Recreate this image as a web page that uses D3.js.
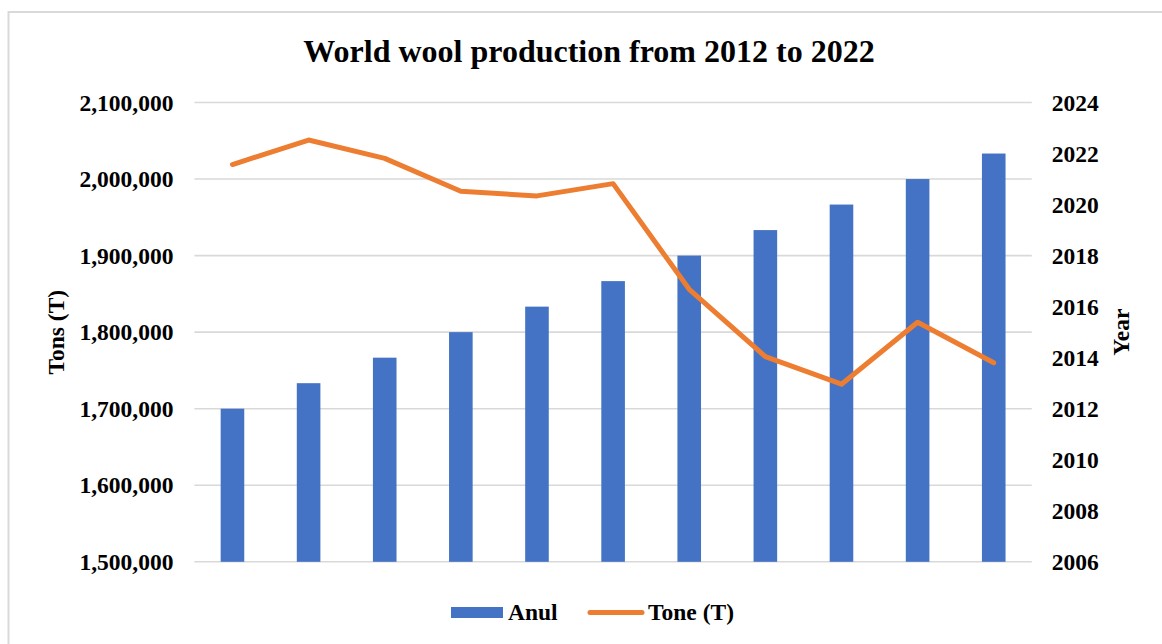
<!DOCTYPE html>
<html>
<head>
<meta charset="utf-8">
<script src="https://cdn.jsdelivr.net/npm/d3@7"></script>
<style>
  html, body { margin: 0; padding: 0; background: #ffffff; }
  svg { display: block; }
  text { font-family: "Liberation Serif", "Times New Roman", serif; font-weight: bold; fill: #000; }
</style>
</head>
<body>
<svg id="chart" width="1162" height="644"></svg>
<script>
// Categories: production years
const years = [2012, 2013, 2014, 2015, 2016, 2017, 2018, 2019, 2020, 2021, 2022];
// Bar series "Anul" (year value, read on the right axis)
const anul = [2012, 2013, 2014, 2015, 2016, 2017, 2018, 2019, 2020, 2021, 2022];
// Line series "Tone (T)" (tons, read on the left axis)
const tone = [2019000, 2051000, 2027000, 1984000, 1978000, 1994000, 1856000, 1768000, 1732000, 1813000, 1760000];
// Axis tick values
const leftTicks = [1500000, 1600000, 1700000, 1800000, 1900000, 2000000, 2100000];
const rightTicks = [2006, 2008, 2010, 2012, 2014, 2016, 2018, 2020, 2022, 2024];

const FONT = "Liberation Serif, Times New Roman, serif";
const svg = d3.select("#chart");
const plot = { left: 194.4, right: 1031.8, top: 102.5, bottom: 561.8 };

// Chart area frame
svg.append("rect")
  .attr("x", 8.5).attr("y", 12).attr("width", 1170).attr("height", 700)
  .attr("fill", "#fff").attr("stroke", "#d9d9d9").attr("stroke-width", 2);

const x = d3.scaleBand()
  .domain(years)
  .range([plot.left, plot.right])
  .paddingInner(0.69)
  .paddingOuter(0.345);

const yLeft = d3.scaleLinear().domain([1500000, 2100000]).range([plot.bottom, plot.top]);
const yRight = d3.scaleLinear().domain([2006, 2024]).range([plot.bottom, plot.top]);

// Horizontal gridlines
svg.append("g")
  .selectAll("line")
  .data(leftTicks)
  .join("line")
  .attr("x1", plot.left).attr("x2", plot.right)
  .attr("y1", d => yLeft(d)).attr("y2", d => yLeft(d))
  .attr("stroke", "#d9d9d9").attr("stroke-width", 1.6);

// Title
svg.append("text")
  .attr("x", 589).attr("y", 62)
  .attr("text-anchor", "middle")
  .attr("font-family", FONT)
  .style("font-size", "32px")
  .text("World wool production from 2012 to 2022");

// Bars
svg.append("g")
  .selectAll("rect")
  .data(years.map((yr, i) => ({ yr, v: anul[i] })))
  .join("rect")
  .attr("x", d => x(d.yr))
  .attr("width", x.bandwidth())
  .attr("y", d => yRight(d.v))
  .attr("height", d => yRight(2006) - yRight(d.v))
  .attr("fill", "#4472c4");

// Line
const line = d3.line()
  .x(d => x(d.yr) + x.bandwidth() / 2)
  .y(d => yLeft(d.v));
svg.append("path")
  .datum(years.map((yr, i) => ({ yr, v: tone[i] })))
  .attr("d", line)
  .attr("fill", "none")
  .attr("stroke", "#ed7d31")
  .attr("stroke-width", 5)
  .attr("stroke-linejoin", "round")
  .attr("stroke-linecap", "round");

function styleAxis(g) {
  g.select(".domain").remove();
  g.attr("font-family", FONT).attr("font-size", 23.5).attr("font-weight", "bold");
  g.selectAll("text")
    .attr("font-family", FONT)
    .style("font-family", FONT)
    .style("font-size", "23.5px")
    .style("font-weight", "bold")
    .attr("fill", "#000");
}

// Left axis
svg.append("g")
  .attr("transform", `translate(${plot.left},0)`)
  .call(d3.axisLeft(yLeft).tickValues(leftTicks).tickSize(0).tickPadding(21).tickFormat(d3.format(",")))
  .call(styleAxis);

// Right axis
svg.append("g")
  .attr("transform", `translate(${plot.right},0)`)
  .call(d3.axisRight(yRight).tickValues(rightTicks).tickSize(0).tickPadding(20).tickFormat(d3.format("d")))
  .call(styleAxis);

// Axis titles
const midY = (plot.top + plot.bottom) / 2;
svg.append("text")
  .attr("transform", `translate(64,${midY}) rotate(-90)`)
  .attr("text-anchor", "middle")
  .attr("font-family", FONT)
  .style("font-size", "23.5px")
  .text("Tons (T)");
svg.append("text")
  .attr("transform", `translate(1129,${midY}) rotate(-90)`)
  .attr("text-anchor", "middle")
  .attr("font-family", FONT)
  .style("font-size", "23.5px")
  .text("Year");

// Legend
const legend = svg.append("g").attr("font-family", FONT);
legend.append("rect")
  .attr("x", 451).attr("y", 607).attr("width", 52).attr("height", 11)
  .attr("fill", "#4472c4");
legend.append("text")
  .attr("x", 508).attr("y", 619.5)
  .style("font-size", "23.5px")
  .text("Anul");
legend.append("line")
  .attr("x1", 590).attr("x2", 642).attr("y1", 612.5).attr("y2", 612.5)
  .attr("stroke", "#ed7d31").attr("stroke-width", 5).attr("stroke-linecap", "round");
legend.append("text")
  .attr("x", 648).attr("y", 619.5)
  .style("font-size", "23.5px")
  .text("Tone (T)");
</script>
</body>
</html>
